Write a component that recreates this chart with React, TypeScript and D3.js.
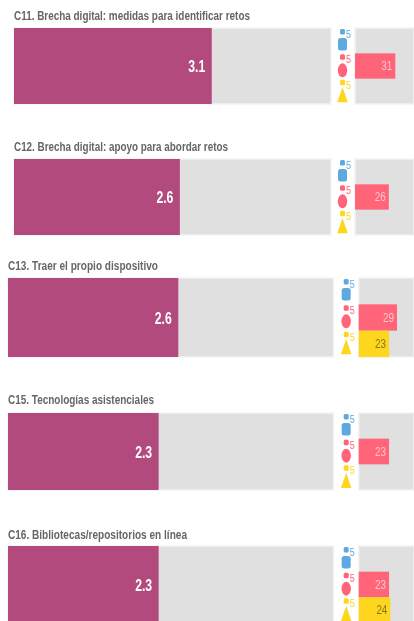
import React from "react";
import * as d3 from "d3";

const titles = [
  "C11. Brecha digital: medidas para identificar retos",
  "C12. Brecha digital: apoyo para abordar retos",
  "C13. Traer el propio dispositivo",
  "C15. Tecnologías asistenciales",
  "C16. Bibliotecas/repositorios en línea",
];
const mainValues = [3.1, 2.6, 2.6, 2.3, 2.3];
const blueValues: (number | null)[] = [null, null, null, null, null];
const pinkValues: (number | null)[] = [31, 26, 29, 23, 23];
const yellowValues: (number | null)[] = [null, null, 23, null, 24];

// layout of each stacked panel
const panelX = [14, 14, 8, 8, 8];
const panelY = [28, 159, 278, 413, 546];
const panelH = [76, 76, 79, 77, 77];
const unitW = [63.8, 63.8, 65.5, 65.5, 65.5];
const rightX = [355, 355, 358.7, 358.7, 358.7];
const rightW = [130, 130, 132, 132, 132];
const titleY = [20, 151, 270, 404, 539];
const titleW = [236, 214, 150, 146, 179];

const PURPLE = "#b34a7d";
const GRAY = "#e0e0e0";
const EDGE = "#f3f3f3";
const colors = ["#5fa8e0", "#ff6478", "#ffd61e"];
const FONT = "'Liberation Sans',sans-serif";

function Icon({ k, cx, by }: { k: number; cx: number; by: number }) {
  const c = colors[k];
  const tri = d3.symbol().type(d3.symbolTriangle).size(85)() as string;
  return (
    <g>
      <rect x={cx - 2.5} y={by + 1} width={5} height={5.5} rx={1.5} fill={c} />
      <text x={cx + 3.5} y={by + 10} fontFamily={FONT} fontSize={11} fill={c} textLength={5}
        lengthAdjust="spacingAndGlyphs">5</text>
      {k === 0 && <rect x={cx - 4.5} y={by + 10} width={9} height={12.5} rx={2.5} fill={c} />}
      {k === 1 && <ellipse cx={cx} cy={by + 17} rx={4.7} ry={7} fill={c} />}
      {k === 2 && <path d={tri} fill={c} transform={`translate(${cx},${by + 18.5}) scale(0.75,1.25)`} />}
    </g>
  );
}

function Panel({ i }: { i: number }) {
  const x0 = panelX[i];
  const y0 = panelY[i];
  const h = panelH[i];
  const x = d3.scaleLinear().domain([0, 5]).range([x0, x0 + unitW[i] * 5]);
  const xr = d3.scaleLinear().domain([0, 100]).range([rightX[i], rightX[i] + rightW[i]]);
  const band = d3.scaleBand<number>().domain([0, 1, 2]).range([y0, y0 + h]);
  const series = [blueValues[i], pinkValues[i], yellowValues[i]];
  const grayEnd = x(5) - 2;
  return (
    <g>
      <text x={x0} y={titleY[i]} fontFamily={FONT} fontWeight={700} fontSize={12}
        fill="#666" textLength={titleW[i]} lengthAdjust="spacingAndGlyphs">{titles[i]}</text>
      <rect x={x0} y={y0} width={grayEnd - x0} height={h} fill={GRAY} stroke={EDGE} strokeWidth={1.5} />
      <rect x={x0} y={y0} width={x(mainValues[i]) - x0} height={h} fill={PURPLE} />
      <text x={x(mainValues[i]) - 6.5} y={y0 + h / 2 + 6} textAnchor="end" fontFamily={FONT}
        fontWeight={700} fontSize={16} fill="#fff" textLength={17}
        lengthAdjust="spacingAndGlyphs">{mainValues[i].toFixed(1)}</text>
      <rect x={rightX[i]} y={y0} width={414 - rightX[i]} height={h} fill={GRAY} stroke={EDGE} strokeWidth={1.5} />
      {series.map((v, k) => {
        const by = band(k)!;
        const bh = band.bandwidth();
        return (
          <g key={k}>
            <Icon k={k} cx={rightX[i] - 12.5} by={by} />
            {v !== null && (
              <g>
                <rect x={xr(0)} y={by} width={xr(v) - xr(0)} height={bh} fill={colors[k]} />
                <text x={xr(v) - 3} y={by + bh / 2 + 4} textAnchor="end" fontFamily={FONT}
                  fontSize={12} fill={k === 2 ? "#85761f" : "#ffc4cc"} textLength={11}
                  lengthAdjust="spacingAndGlyphs">{v}</text>
              </g>
            )}
          </g>
        );
      })}
    </g>
  );
}

export default function App() {
  return (
    <svg width={414} height={621} viewBox="0 0 414 621"
      style={{ position: "absolute", left: 0, top: 0, filter: "blur(0.7px)", background: "#fff" }}>
      {titles.map((_, i) => <Panel key={i} i={i} />)}
    </svg>
  );
}
